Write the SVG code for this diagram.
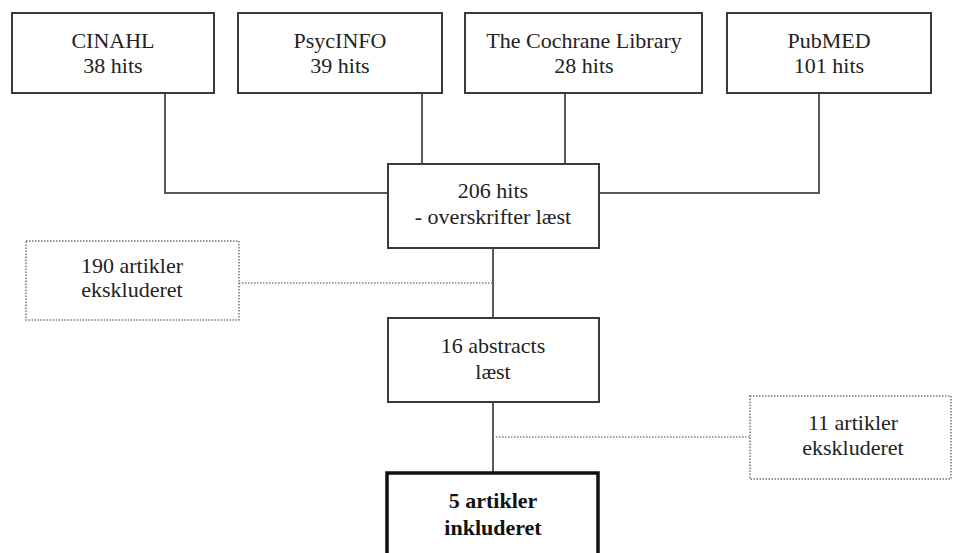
<svg xmlns="http://www.w3.org/2000/svg" width="953" height="553" viewBox="0 0 953 553">
<style>
.box{fill:#fff;stroke:#3a3a3a;stroke-width:2}
.dot{fill:#fff;stroke:#777;stroke-width:1.5;stroke-dasharray:1.5 1.5}
.final{fill:#fff;stroke:#111;stroke-width:3.5}
text{font-family:'Liberation Serif','DejaVu Serif',serif;font-size:22px;fill:#222;text-anchor:middle}
.b{font-weight:bold;fill:#111}
.ln{stroke:#5a5a5a;stroke-width:2;fill:none}
.dl{stroke:#888;stroke-width:1.5;stroke-dasharray:1.5 1.5;fill:none}
</style>
<rect width="953" height="553" fill="#fff"/>
<g id="connectors">
<polyline class="ln" points="165,93 165,193 388,193"/>
<line class="ln" x1="422" y1="93" x2="422" y2="164"/>
<line class="ln" x1="565" y1="93" x2="565" y2="164"/>
<polyline class="ln" points="819,93 819,193 599,193"/>
<line class="ln" x1="493" y1="248" x2="493" y2="318"/>
<line class="dl" x1="239" y1="283" x2="493" y2="283"/>
<line class="ln" x1="493" y1="402" x2="493" y2="473"/>
<line class="dl" x1="493" y1="437" x2="750" y2="437"/>
</g>
<g id="cinahl" font-family="Liberation Serif, serif">
<rect class="box" x="12" y="13" width="202" height="80"/>
<text x="113" y="48">CINAHL</text>
<text x="113" y="73">38 hits</text>
</g>
<g id="psycinfo">
<rect class="box" x="238" y="13" width="204" height="80"/>
<text x="340" y="48">PsycINFO</text>
<text x="340" y="73">39 hits</text>
</g>
<g id="cochrane">
<rect class="box" x="465" y="13" width="237" height="80"/>
<text x="584" y="48">The Cochrane Library</text>
<text x="584" y="73">28 hits</text>
</g>
<g id="pubmed">
<rect class="box" x="727" y="13" width="204" height="80"/>
<text x="829" y="48">PubMED</text>
<text x="829" y="73">101 hits</text>
</g>
<g id="hits206">
<rect class="box" x="388" y="164" width="211" height="84"/>
<text x="493" y="198">206 hits</text>
<text x="493" y="224">- overskrifter læst</text>
</g>
<g id="excl190">
<rect class="dot" x="26" y="241" width="213" height="79"/>
<text x="132" y="273">190 artikler</text>
<text x="132" y="297">ekskluderet</text>
</g>
<g id="abstracts16">
<rect class="box" x="388" y="318" width="211" height="84"/>
<text x="493" y="353">16 abstracts</text>
<text x="493" y="379">læst</text>
</g>
<g id="excl11">
<rect class="dot" x="750" y="396" width="201" height="83"/>
<text x="853" y="430">11 artikler</text>
<text x="853" y="455">ekskluderet</text>
</g>
<g id="incl5">
<rect class="final" x="387" y="473" width="211" height="86"/>
<text class="b" x="493" y="508">5 artikler</text>
<text class="b" x="493" y="535">inkluderet</text>
</g>
</svg>
